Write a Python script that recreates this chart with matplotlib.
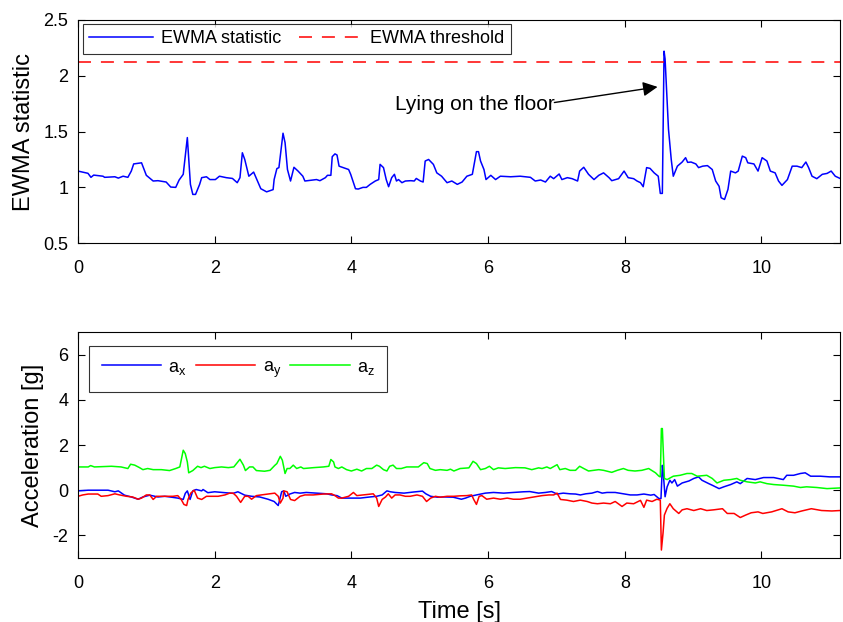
import matplotlib
matplotlib.use("Agg")
import matplotlib.pyplot as plt
import numpy as np

plt.rcParams['font.family'] = ['Liberation Sans', 'DejaVu Sans']
plt.rcParams['axes.unicode_minus'] = False
plt.rcParams['mathtext.fontset'] = 'custom'
plt.rcParams['mathtext.rm'] = 'Liberation Sans'

# EWMA statistic (top panel)
t_ewma = [0, 0.146, 0.19, 0.23, 0.366, 0.39, 0.54, 0.59, 0.66, 0.73, 0.78, 0.815, 0.93, 1.0, 1.1,
          1.17, 1.29, 1.357, 1.43, 1.48, 1.54, 1.6, 1.645, 1.68, 1.72, 1.78, 1.81, 1.88, 1.93, 2.01,
          2.07, 2.17, 2.26, 2.33, 2.37, 2.405, 2.44, 2.50, 2.57, 2.675, 2.76, 2.855, 2.87, 2.91, 2.94,
          3.0, 3.03, 3.065, 3.11, 3.16, 3.22, 3.29, 3.32, 3.44, 3.49, 3.54, 3.62, 3.65, 3.70, 3.72,
          3.76, 3.79, 3.82, 3.88, 3.96, 3.99, 4.06, 4.10, 4.17, 4.22, 4.275, 4.35, 4.40, 4.42, 4.47,
          4.51, 4.545, 4.59, 4.63, 4.66, 4.69, 4.74, 4.79, 4.87, 4.92, 4.95, 5.01, 5.05, 5.08, 5.13,
          5.20, 5.25, 5.32, 5.40, 5.47, 5.55, 5.62, 5.69, 5.77, 5.83, 5.86, 5.89, 5.94, 5.97, 6.04,
          6.11, 6.18, 6.33, 6.47, 6.62, 6.69, 6.77, 6.84, 6.91, 6.96, 7.04, 7.08, 7.16, 7.23, 7.31,
          7.34, 7.40, 7.47, 7.55, 7.62, 7.69, 7.77, 7.81, 7.91, 7.99, 8.05, 8.13, 8.18, 8.23, 8.27,
          8.32, 8.37, 8.43, 8.49, 8.52, 8.55, 8.575, 8.59, 8.64, 8.68, 8.71, 8.77, 8.84, 8.89, 8.92,
          8.97, 9.04, 9.08, 9.14, 9.21, 9.28, 9.33, 9.38, 9.41, 9.46, 9.51, 9.55, 9.62, 9.66, 9.72,
          9.77, 9.80, 9.89, 9.95, 10.01, 10.08, 10.13, 10.20, 10.25, 10.30, 10.38, 10.45, 10.52,
          10.59, 10.65, 10.69, 10.74, 10.81, 10.89, 10.96, 11.02, 11.08, 11.15]
ewma = [1.146, 1.126, 1.09, 1.11, 1.10, 1.09, 1.095, 1.083, 1.10, 1.09, 1.146, 1.21, 1.22, 1.108, 1.057,
        1.06, 1.048, 1.003, 1.0, 1.066, 1.117, 1.446, 1.027, 0.937, 0.937, 1.027, 1.087, 1.095, 1.07, 1.07,
        1.10, 1.087, 1.08, 1.042, 1.087, 1.31, 1.25, 1.10, 1.137, 0.988, 0.96, 0.98, 1.07, 1.168, 1.177,
        1.485, 1.40, 1.16, 1.057, 1.18, 1.146, 1.10, 1.057, 1.066, 1.07, 1.06, 1.087, 1.108, 1.108, 1.275,
        1.30, 1.29, 1.19, 1.177, 1.16, 1.117, 0.988, 0.985, 1.0, 1.0, 1.027, 1.057, 1.07, 1.206, 1.177,
        1.07, 1.006, 1.087, 1.117, 1.057, 1.07, 1.042, 1.057, 1.06, 1.057, 1.08, 1.057, 1.048, 1.236, 1.25,
        1.206, 1.13, 1.10, 1.042, 1.057, 1.027, 1.048, 1.10, 1.117, 1.32, 1.32, 1.236, 1.16, 1.07, 1.108,
        1.07, 1.10, 1.095, 1.10, 1.09, 1.057, 1.066, 1.048, 1.10, 1.078, 1.12, 1.07, 1.087, 1.078, 1.057,
        1.146, 1.18, 1.117, 1.07, 1.108, 1.13, 1.087, 1.06, 1.078, 1.146, 1.087, 1.078, 1.057, 1.042, 1.006,
        1.177, 1.17, 1.13, 1.10, 0.946, 0.946, 2.22, 2.15, 1.52, 1.25, 1.10, 1.19, 1.227, 1.266, 1.224,
        1.227, 1.21, 1.177, 1.19, 1.195, 1.16, 1.057, 1.01, 0.907, 0.892, 0.982, 1.146, 1.13, 1.146, 1.28,
        1.266, 1.22, 1.21, 1.146, 1.266, 1.236, 1.146, 1.13, 1.057, 1.018, 1.07, 1.19, 1.19,
        1.177, 1.227, 1.177, 1.10, 1.078, 1.117, 1.125, 1.146, 1.10, 1.08]
threshold = 2.12

# Acceleration (bottom panel)
t_ax = [0, 0.15, 0.29, 0.44, 0.54, 0.59, 0.68, 0.78, 0.88, 0.95, 1.05, 1.17, 1.27, 1.37, 1.46, 1.54,
        1.57, 1.60, 1.64, 1.68, 1.73, 1.81, 1.83, 1.90, 2.0, 2.15, 2.27, 2.34, 2.44, 2.54, 2.66, 2.78,
        2.87, 2.93, 2.98, 3.01, 3.04, 3.10, 3.17, 3.25, 3.34, 3.49, 3.64, 3.71, 3.79, 3.86, 3.98, 4.13,
        4.27, 4.37, 4.45, 4.52, 4.57, 4.64, 4.77, 4.91, 5.04, 5.09, 5.16, 5.26, 5.36, 5.49, 5.61, 5.67,
        5.74, 5.83, 5.96, 6.08, 6.23, 6.37, 6.52, 6.61, 6.74, 6.84, 6.93, 7.01, 7.10, 7.20, 7.28, 7.35,
        7.43, 7.52, 7.60, 7.67, 7.74, 7.86, 7.98, 8.08, 8.18, 8.28, 8.38, 8.43, 8.50, 8.53, 8.55, 8.56,
        8.59, 8.62, 8.66, 8.69, 8.73, 8.77, 8.84, 8.94, 9.01, 9.08, 9.13, 9.23, 9.28, 9.38, 9.45, 9.55,
        9.64, 9.69, 9.79, 9.91, 10.03, 10.18, 10.32, 10.37, 10.47, 10.57, 10.64, 10.72, 10.86, 11.0, 11.15]
ax_vals = [-0.03, 0.0, 0.0, 0.0, -0.07, -0.03, -0.22, -0.3, -0.4, -0.3, -0.22, -0.3, -0.27, -0.31, -0.35, -0.41,
           -0.14, -0.03, -0.41, -0.03, 0.03, -0.03, 0.03, -0.11, -0.07, -0.11, -0.14, -0.07, -0.22, -0.27, -0.3, -0.4,
           -0.5, -0.68, -0.07, -0.03, -0.27, -0.17, -0.1, -0.13, -0.1, -0.13, -0.16, -0.21, -0.24, -0.35, -0.35, -0.35,
           -0.3, -0.27, -0.21, -0.03, -0.07, -0.1, -0.13, -0.08, -0.04, -0.16, -0.27, -0.31, -0.3, -0.31, -0.4, -0.35,
           -0.27, -0.21, -0.13, -0.1, -0.13, -0.1, -0.07, -0.06, -0.13, -0.1, -0.06, -0.17, -0.13, -0.16, -0.17, -0.21,
           -0.16, -0.13, -0.06, -0.13, -0.1, -0.1, -0.16, -0.21, -0.21, -0.17, -0.22, -0.19, -0.37, -0.37, 1.1, 0.88,
           -0.29, 0.15, 0.44, 0.32, 0.47, 0.18, 0.32, 0.41, 0.52, 0.59, 0.44, 0.29, 0.22, 0.07, 0.15, 0.25,
           0.37, 0.29, 0.52, 0.47, 0.56, 0.56, 0.47, 0.66, 0.66, 0.74, 0.77, 0.62, 0.62, 0.59, 0.59]

t_ay = [0, 0.07, 0.15, 0.29, 0.34, 0.44, 0.54, 0.61, 0.71, 0.80, 0.88, 0.93, 1.0, 1.05, 1.10, 1.15, 1.27,
        1.39, 1.46, 1.51, 1.55, 1.59, 1.61, 1.65, 1.70, 1.75, 1.81, 1.88, 1.95, 2.05, 2.15, 2.22, 2.27, 2.32,
        2.38, 2.44, 2.49, 2.54, 2.61, 2.68, 2.81, 2.88, 2.93, 2.96, 3.0, 3.01, 3.06, 3.11, 3.17, 3.25, 3.32,
        3.44, 3.59, 3.71, 3.76, 3.81, 3.86, 3.96, 4.03, 4.08, 4.17, 4.32, 4.37, 4.40, 4.45, 4.50, 4.54, 4.59,
        4.64, 4.71, 4.79, 4.86, 4.96, 5.04, 5.10, 5.16, 5.23, 5.30, 5.40, 5.50, 5.59, 5.69, 5.76, 5.79, 5.83,
        5.87, 5.91, 5.98, 6.08, 6.18, 6.28, 6.37, 6.47, 6.57, 6.67, 6.79, 6.89, 6.96, 7.01, 7.06, 7.15, 7.25,
        7.35, 7.45, 7.52, 7.60, 7.69, 7.79, 7.86, 7.96, 8.03, 8.13, 8.23, 8.28, 8.32, 8.40, 8.47, 8.52, 8.536,
        8.56, 8.58, 8.62, 8.66, 8.71, 8.79, 8.84, 8.91, 9.01, 9.11, 9.20, 9.30, 9.43, 9.50, 9.60, 9.69, 9.77,
        9.85, 9.95, 10.02, 10.15, 10.30, 10.39, 10.49, 10.59, 10.73, 10.88, 11.03, 11.15]
ay_vals = [-0.27, -0.21, -0.17, -0.17, -0.27, -0.24, -0.16, -0.21, -0.27, -0.3, -0.4, -0.35, -0.21, -0.21, -0.41, -0.27, -0.27,
           -0.27, -0.24, -0.41, -0.63, -0.68, -0.41, -0.13, 0.0, -0.35, -0.41, -0.27, -0.27, -0.27, -0.21, -0.13, -0.13, -0.27,
           -0.54, -0.27, -0.27, -0.4, -0.24, -0.21, -0.16, -0.13, -0.27, -0.57, -0.35, -0.03, -0.07, -0.41, -0.46, -0.27, -0.21,
           -0.21, -0.17, -0.16, -0.24, -0.35, -0.35, -0.27, -0.1, -0.24, -0.21, -0.16, -0.35, -0.72, -0.41, -0.3, -0.16, -0.35,
           -0.21, -0.21, -0.27, -0.27, -0.21, -0.27, -0.5, -0.35, -0.27, -0.31, -0.27, -0.27, -0.25, -0.24, -0.21, -0.41, -0.63,
           -0.27, -0.24, -0.4, -0.35, -0.4, -0.35, -0.4, -0.4, -0.35, -0.3, -0.24, -0.21, -0.21, -0.13, -0.41, -0.44, -0.5,
           -0.44, -0.5, -0.57, -0.6, -0.57, -0.6, -0.5, -0.72, -0.57, -0.6, -0.45, -0.76, -0.44, -0.5, -0.4, -0.44, -2.65,
           -1.9, -1.1, -0.8, -0.6, -0.82, -1.03, -0.87, -0.82, -0.9, -0.82, -0.9, -0.87, -0.82, -1.03, -1.03, -1.21, -1.1,
           -1.0, -0.96, -1.03, -0.96, -0.82, -0.96, -1.0, -0.92, -0.82, -0.9, -0.92, -0.9]

t_az = [0, 0.15, 0.185, 0.24, 0.49, 0.63, 0.73, 0.77, 0.83, 0.90, 0.95, 1.02, 1.10, 1.22, 1.34, 1.43, 1.49,
        1.54, 1.57, 1.60, 1.62, 1.68, 1.75, 1.80, 1.85, 1.93, 2.0, 2.10, 2.2, 2.28, 2.32, 2.37, 2.42, 2.45,
        2.51, 2.56, 2.61, 2.73, 2.81, 2.88, 2.91, 2.96, 2.99, 3.03, 3.06, 3.10, 3.15, 3.20, 3.26, 3.30, 3.45,
        3.59, 3.67, 3.70, 3.74, 3.76, 3.81, 3.86, 3.93, 4.0, 4.08, 4.15, 4.22, 4.30, 4.37, 4.41, 4.47, 4.52,
        4.56, 4.61, 4.66, 4.73, 4.81, 4.91, 4.98, 5.06, 5.11, 5.15, 5.23, 5.30, 5.40, 5.45, 5.50, 5.59, 5.72,
        5.78, 5.83, 5.89, 5.96, 6.02, 6.08, 6.15, 6.25, 6.40, 6.54, 6.64, 6.74, 6.79, 6.86, 6.91, 7.01, 7.05,
        7.13, 7.20, 7.28, 7.34, 7.40, 7.47, 7.55, 7.62, 7.69, 7.81, 7.89, 7.98, 8.05, 8.15, 8.25, 8.35, 8.45,
        8.50, 8.52, 8.536, 8.55, 8.58, 8.62, 8.71, 8.81, 8.91, 8.98, 9.06, 9.20, 9.28, 9.35, 9.45, 9.55, 9.64,
        9.69, 9.79, 9.91, 9.98, 10.08, 10.18, 10.32, 10.47, 10.57, 10.66, 10.81, 10.96, 11.15]
az_vals = [1.03, 1.03, 1.09, 1.03, 1.06, 1.03, 0.96, 1.15, 1.11, 1.0, 0.91, 0.96, 0.91, 0.91, 0.87, 0.96, 1.03,
           1.77, 1.62, 1.25, 0.77, 0.87, 1.06, 1.0, 1.06, 0.96, 1.0, 1.03, 1.0, 1.03, 1.18, 1.37, 1.11, 0.87,
           1.03, 1.03, 0.87, 0.84, 0.88, 1.1, 1.18, 1.5, 1.33, 0.74, 0.96, 0.96, 1.11, 0.96, 1.03, 0.96, 1.0,
           1.03, 1.06, 1.36, 1.25, 1.03, 0.96, 1.03, 0.91, 0.85, 0.93, 0.85, 0.96, 0.96, 1.11, 1.06, 0.91, 0.85,
           1.06, 1.11, 0.96, 0.96, 1.03, 1.03, 1.03, 1.22, 1.18, 0.96, 0.88, 0.91, 0.88, 0.93, 0.85, 0.96, 0.99,
           1.28, 1.18, 0.91, 0.96, 1.06, 0.91, 0.99, 0.96, 1.0, 0.99, 0.91, 0.99, 0.96, 1.03, 0.96, 1.13, 0.91,
           0.96, 0.88, 0.88, 1.06, 0.96, 0.85, 0.88, 0.91, 0.88, 0.79, 0.88, 0.96, 0.88, 0.85, 0.88, 0.96, 0.77,
           0.62, 0.59, 2.73, 2.73, 0.52, 0.47, 0.62, 0.66, 0.74, 0.74, 0.62, 0.66, 0.52, 0.32, 0.44, 0.47, 0.52,
           0.44, 0.37, 0.32, 0.37, 0.29, 0.25, 0.22, 0.18, 0.12, 0.15, 0.12, 0.07, 0.1]

xmax = 11.15

fig = plt.figure(figsize=(8.43, 6.22), dpi=100)
ax1 = fig.add_axes([0.0925, 0.609, 0.904, 0.359])
ax2 = fig.add_axes([0.0925, 0.103, 0.904, 0.363])

def matlab_style(a):
    a.tick_params(direction='in', top=True, right=True, labelsize=13, length=5, width=0.8)
    a.tick_params(axis='x', pad=12)
    a.tick_params(axis='y', pad=7)
    for s in a.spines.values():
        s.set_linewidth(0.8)

ax1.plot(t_ewma, ewma, color='#0000ff', lw=1.1, label='EWMA statistic')
ax1.axhline(threshold, color='#ff0000', lw=1.1, ls=(0, (8.5, 6.5)), label='EWMA threshold')
ax1.set_xlim(0, xmax)
ax1.set_ylim(0.5, 2.5)
ax1.set_yticks([0.5, 1, 1.5, 2, 2.5])
ax1.set_yticklabels(['0.5', '1', '1.5', '2', '2.5'])
ax1.set_xticks([0, 2, 4, 6, 8, 10])
ax1.set_ylabel('EWMA statistic', fontsize=17, labelpad=6)
matlab_style(ax1)
leg1 = ax1.legend(loc='upper left', bbox_to_anchor=(0.0066, 0.982), ncol=2, fontsize=13,
                  frameon=True, fancybox=False, edgecolor='black', handlelength=3.5,
                  borderaxespad=0, columnspacing=1.0, borderpad=0.35, handletextpad=0.45)
leg1.get_frame().set_linewidth(0.8)

ax1.text(6.97, 1.745, 'Lying on the floor', fontsize=15, ha='right', va='center')
ax1.annotate('', xy=(8.48, 1.9), xytext=(6.97, 1.76),
             arrowprops=dict(arrowstyle='-|>', color='black', lw=1.0, mutation_scale=22,
                             shrinkA=0, shrinkB=0))

ax2.plot(t_ax, ax_vals, color='#0000ff', lw=1.1, label=r'a$_\mathrm{x}$')
ax2.plot(t_ay, ay_vals, color='#ff0000', lw=1.1, label=r'a$_\mathrm{y}$')
ax2.plot(t_az, az_vals, color='#00ff00', lw=1.1, label=r'a$_\mathrm{z}$')
ax2.set_xlim(0, xmax)
ax2.set_ylim(-3, 7)
ax2.set_yticks([-2, 0, 2, 4, 6])
ax2.set_xticks([0, 2, 4, 6, 8, 10])
ax2.set_ylabel('Acceleration [g]', fontsize=17, labelpad=6)
ax2.set_xlabel('Time [s]', fontsize=17, labelpad=7)
matlab_style(ax2)
leg2 = ax2.legend(loc='upper left', bbox_to_anchor=(0.0144, 0.938), ncol=3, fontsize=13,
                  frameon=True, fancybox=False, edgecolor='black', handlelength=3.3,
                  borderaxespad=0, columnspacing=0.5, borderpad=0.7, handletextpad=0.4)
leg2.get_frame().set_linewidth(0.8)

fig.align_ylabels([ax1, ax2])
fig.savefig('out.png', dpi=100)
